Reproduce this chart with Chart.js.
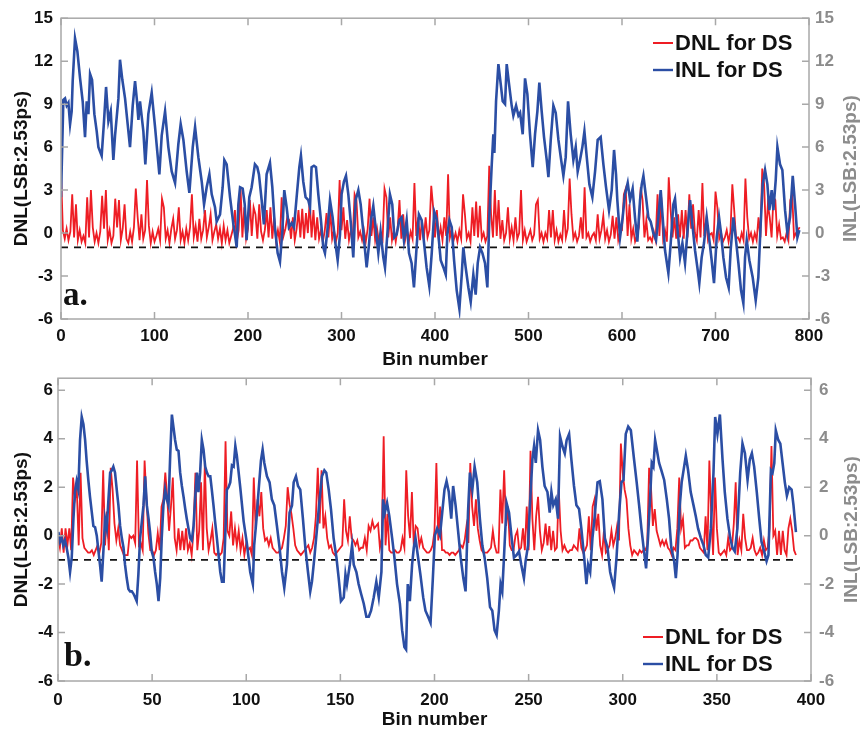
<!DOCTYPE html>
<html>
<head>
<meta charset="utf-8">
<script src="https://cdn.jsdelivr.net/npm/chart.js@4.4.0/dist/chart.umd.min.js"></script>
<style>
  body { margin: 0; background: #fff; }
  #wrap { position: relative; width: 860px; height: 735px; }
  #wrap canvas { position: absolute; left: 0; }
</style>
</head>
<body>
<div id="wrap">
  <canvas id="chartA" width="860" height="372" style="top:0"></canvas>
  <canvas id="chartB" width="860" height="375" style="top:360px"></canvas>
</div>
<script>
// ---- panel a: 800 bins ----
const xTicksA = [0, 100, 200, 300, 400, 500, 600, 700, 800];
const yTicksA = [-6, -3, 0, 3, 6, 9, 12, 15];
const dnlStepA = 2; // one DNL value every 2 bins
const dnlA = [
  4.3,0.2,-0.4,0.3,-0.5,0.1,2.7,-0.3,2.0,-0.5,0.2,-0.6,-0.2,-0.7,2.5,-0.3,3.0,0.4,-0.6,0.0,
  -0.7,0.1,2.6,0.3,3.0,-0.5,0.2,-0.7,-0.2,2.4,0.4,2.3,-0.5,0.3,2.0,-0.4,-0.7,0.1,-0.6,0.4,
  3.1,1.1,-0.5,1.3,-0.4,0.2,3.7,0.5,-0.7,0.1,-0.6,-0.2,0.3,-0.5,2.4,1.8,-0.4,0.2,-0.7,0.3,
  1.0,-0.4,0.2,1.8,-0.5,0.1,-0.7,0.3,-0.5,0.4,2.7,-0.3,0.5,-0.6,1.0,-0.4,0.2,1.6,-0.3,0.4,
  1.3,-0.5,0.1,0.6,-0.4,0.3,-0.7,0.5,-0.5,0.2,-0.7,-0.2,0.3,1.6,-0.6,0.2,3.2,-0.3,1.8,-0.4,
  0.3,2.3,-0.2,1.8,1.3,-0.4,2.0,0.1,-0.5,0.2,1.6,-0.3,1.8,-0.4,1.1,-0.5,0.2,-0.6,2.5,-0.2,
  0.3,1.1,0.9,-0.4,1.1,-0.5,0.3,1.6,-0.3,1.7,-0.4,1.4,0.0,2.3,-0.3,1.6,-0.5,1.1,-0.4,0.2,
  -0.6,0.1,1.4,-0.3,1.6,-0.4,0.2,-0.6,0.0,3.7,0.2,1.8,-0.4,0.9,-0.5,0.2,-0.4,2.7,2.3,-0.3,
  0.1,-0.5,0.2,-0.6,0.3,2.4,-0.2,1.1,-0.5,0.3,-0.6,0.0,-0.4,3.1,2.5,-0.3,1.1,-0.5,0.2,-0.6,
  0.3,2.3,-0.4,1.3,-0.5,0.2,-0.6,0.1,-0.4,3.5,-0.2,1.1,-0.5,0.9,-0.4,1.1,-0.3,0.2,3.3,1.8,
  -0.3,1.6,-0.4,0.4,-0.5,1.1,-0.2,4.1,-0.3,0.2,-0.5,0.0,-0.6,0.2,-0.4,2.7,1.3,-0.4,0.0,-0.6,
  1.8,-0.2,2.2,-0.3,1.9,-0.4,0.0,-0.6,-0.2,4.7,1.3,-0.3,3.0,-0.2,2.3,-0.4,0.9,-0.5,0.0,1.8,
  -0.4,0.4,-0.5,1.1,-0.4,0.0,3.0,-0.5,0.2,-0.6,-0.2,0.2,-0.5,-0.1,2.0,2.3,-0.4,0.0,-0.6,0.0,
  -0.4,1.6,-0.3,1.6,-0.5,0.2,-0.6,-0.1,-0.5,1.6,-0.3,0.3,3.8,1.3,-0.4,0.0,-0.6,-0.2,1.1,-0.4,
  3.2,-0.3,0.0,-0.6,-0.2,0.0,-0.5,1.3,-0.4,0.2,1.2,-0.4,0.2,-0.6,-0.1,1.2,-0.4,1.1,-0.5,0.1,
  0.2,2.7,3.1,-0.2,2.0,-0.4,0.3,-0.6,-0.2,0.4,3.2,2.3,-0.3,0.9,-0.5,-0.3,-0.6,0.1,-0.5,2.7,
  -0.2,2.5,-0.4,0.2,-0.6,3.9,1.6,-0.3,1.1,-0.4,1.3,-0.3,1.6,-0.4,1.6,-0.3,2.7,0.3,2.0,0.0,
  -0.5,1.6,-0.3,3.5,-0.2,0.9,-0.5,-0.1,0.0,-0.5,2.9,1.8,-0.4,0.0,-0.6,-0.3,0.2,-0.6,0.1,3.4,
  1.6,-0.4,-0.3,-0.6,0.0,-0.5,3.8,1.1,-0.4,0.0,-0.6,0.0,-0.5,1.1,-0.3,4.5,3.4,-0.2,2.0,1.1,
  -0.3,2.5,2.3,-0.2,0.6,-0.4,-0.3,-0.6,0.0,-0.5,2.3,2.7,-0.3,0.0,0.2,0.4
];
// [bin, INL] vertices
const inlA = [
  [0,2.5],[2.5,9.3],[4.3,9.4],[6.1,8.9],[7.9,9.1],[9.7,7.6],[11.4,8.5],[12.5,10.6],[15,13.6],[17.5,12.7],
  [20.4,10.8],[23.2,9.2],[25.7,6.7],[27.5,9.2],[29.3,8.3],[31.1,11.1],[33.2,10.7],[35.7,8.3],[38.2,7.1],[40,6.0],
  [43.5,5.4],[46,7.8],[48.2,10.2],[50.7,7.8],[53.2,8.5],[56,5.1],[57.8,6.8],[61.4,9.4],[63.1,12.1],[65.6,10.7],
  [68.5,9.4],[71.3,7.6],[73.8,6.0],[76.7,8.9],[79.2,10.6],[81,9.4],[82.8,7.9],[84.5,9.2],[88.1,7.1],[90.2,4.8],
  [93.4,8.3],[97,9.8],[100.6,7.4],[103.1,5.6],[105.2,4.1],[107.7,6.8],[111.3,8.5],[114.8,6.0],[118.4,4.3],[122,3.5],
  [125.5,6.2],[128,7.6],[130.9,6.5],[134.4,4.3],[137.3,2.8],[140.9,6.0],[143.4,7.4],[146.9,5.3],[150.5,3.6],[153,2.0],
  [155.8,3.2],[158.7,4.1],[161.2,2.7],[164.7,1.8],[166.5,0.8],[170.1,1.3],[172.9,3.2],[174.7,5.1],[177.2,4.8],[180.8,2.5],
  [184.4,0.6],[186.1,-0.1],[187.9,-1.0],[189.7,2.0],[191.5,3.2],[194.3,3.1],[196.5,2.0],[198.5,-0.5],[201.4,2.5],[203.9,3.2],
  [207.4,4.8],[209.9,4.6],[211.7,4.1],[214.6,2.3],[217,0.6],[219.9,4.1],[223.5,4.9],[226,3.2],[228.8,0.4],[231.7,-1.4],
  [234.2,-2.0],[236.7,0.1],[238.8,3.0],[241.3,1.8],[243.8,0.4],[246.7,0.7],[249.2,0.4],[252,2.5],[254.9,4.6],[256.6,5.4],
  [259.1,3.6],[261.6,2.5],[264.5,2.3],[266.3,1.8],[268,4.6],[270.5,4.7],[272.7,4.6],[275.2,2.7],[278,0.9],[280.5,-1.0],
  [282.3,-1.4],[284.8,0.1],[287.7,2.3],[290.5,1.1],[293,-0.5],[295.9,-1.9],[298.4,-0.1],[300.1,2.7],[302.6,3.6],[304.8,4.0],
  [307.3,2.7],[310.1,0.6],[312.6,-1.7],[315.1,2.3],[318,3.0],[320.5,2.0],[323.3,0.1],[326.9,-2.4],[329.4,-0.8],[331.5,0.9],
  [334,1.9],[336.5,0.4],[339.4,-1.4],[341.8,0.1],[344.7,-1.7],[346.5,-2.4],[349,-0.1],[351.8,2.7],[354.3,2.0],[356.5,-0.3],
  [359,-0.1],[361.8,0.9],[364.3,1.1],[366.8,-0.5],[369.7,0.9],[372.2,-1.4],[375,-2.1],[377.5,-3.8],[380.3,-1.0],[382.8,1.3],
  [385.7,0.9],[388.5,-0.8],[391,-2.4],[393.9,-3.7],[396.5,-1.4],[399.2,1.5],[401.7,1.0],[403.6,-0.1],[406.1,-1.9],[409,-2.4],
  [411.5,-2.9],[413.2,-0.1],[415.4,0.9],[417.9,0.4],[420.4,-1.9],[423.2,-4.0],[426.1,-5.3],[428.6,-2.9],[430.3,-1.0],[432.8,-2.4],
  [435.7,-3.8],[438.2,-4.8],[441,-2.9],[443.5,-4.3],[445.7,-2.1],[448.2,-1.0],[450.7,-1.4],[453.5,-2.1],[456,-3.8],[458.2,1.3],
  [460.7,4.8],[462.4,6.9],[463.5,5.6],[465.3,9.2],[467.8,11.8],[470.3,10.4],[472.4,9.2],[474.9,9.0],[476.7,11.8],[479.2,10.4],
  [482,8.9],[483.8,8.2],[486.7,8.9],[489.2,8.2],[491,8.4],[493.8,6.9],[496.3,10.8],[498.8,9.7],[501.6,6.9],[504.5,4.6],
  [507,6.9],[509.5,8.5],[511.6,10.5],[514.1,8.5],[516.6,6.7],[519.5,5.1],[521.3,3.9],[523.8,6.5],[526.6,8.9],[529.1,8.4],
  [532,6.5],[534.5,5.3],[537.3,4.0],[539.8,5.3],[542.3,9.2],[545.1,6.9],[548,5.1],[550.5,6.0],[552.6,4.3],[555.1,5.1],
  [557.6,6.0],[559.8,7.1],[562.3,5.3],[565.1,3.4],[568.3,2.5],[571.2,4.3],[574,6.5],[577.2,6.7],[580.1,4.8],[582.9,3.2],
  [586.1,1.6],[589,3.0],[591.5,5.8],[593.6,4.1],[595,2.3],[597.9,-0.3],[600.7,1.1],[603.2,2.7],[606.1,3.5],[608.6,2.3],
  [611.4,3.1],[613.9,1.1],[616.4,-0.6],[619.3,2.3],[621.1,3.4],[622.9,4.0],[625.7,2.5],[628.2,1.1],[630.7,0.8],[633.5,0],
  [636.4,-0.5],[638.9,1.1],[641.4,3.0],[643.5,1.1],[646,-1.2],[649.6,-2.8],[652.1,-0.7],[654.9,2.0],[656.7,2.4],[659.2,0.4],
  [662.1,-1.7],[664.6,-0.7],[667.4,-2.1],[669.9,0],[672.8,2.3],[675.3,0.6],[678.1,-1.2],[680.6,-2.4],[682.7,-3.5],[685.2,-1.7],
  [687.7,-0.7],[690.6,1.1],[693.1,-0.3],[695.9,-1.9],[698.4,-3.5],[701.3,-0.3],[703.8,1.1],[705.9,0],[708.4,-1.7],[711.3,-3.1],
  [714.1,-3.8],[716.2,-1.2],[719.1,1.1],[721.6,-0.3],[724.5,-2.1],[727.3,-4.0],[729.8,-4.9],[731.6,-1.7],[733.4,-0.5],[736.2,-1.9],
  [739.8,-3.1],[743,-4.7],[745.8,-3.1],[748.3,0.6],[750.5,3.4],[753,4.4],[755.5,3.4],[757.6,1.6],[760.1,3.0],[761.9,1.6],
  [764.4,3.7],[766.2,6.0],[769,4.8],[771.5,4.4],[774.4,1.6],[776.9,0],[779.7,1.1],[782.6,4.0],[785.1,2.0],[787.6,-0.3],
  [789.7,0.2]
];

// ---- panel b: 393 bins ----
const xTicksB = [0, 50, 100, 150, 200, 250, 300, 350, 400];
const yTicksB = [-6, -4, -2, 0, 2, 4, 6];
const dnlStepB = 1;
const dnlB = [
  -0.1,-0.5,0.3,-0.7,0.3,-0.4,0.3,-0.6,2.4,1.5,1.9,-0.4,2.6,-0.1,-0.5,-0.6,-0.7,-0.7,-0.6,-0.8,
  -0.6,-0.4,-0.7,-0.3,2.7,-0.4,1.0,-0.6,2.8,1.9,0.5,-0.2,0.3,-0.4,-0.6,-0.8,-0.8,-0.8,0.0,-0.1,
  0.0,-0.3,3.1,-0.4,-0.3,-0.6,3.1,1.5,0.1,-0.6,-0.6,-0.8,-0.6,0.1,-0.6,1.2,1.5,2.6,1.6,0.2,
  1.2,2.4,-0.1,-0.6,0.3,-0.6,0.2,-0.6,0.3,-0.6,-0.3,-0.8,0.2,2.6,-0.6,0.2,2.2,-0.6,3.0,0.3,
  -0.6,-0.2,0.3,-0.7,-0.8,-0.7,-0.8,-0.7,-0.1,3.9,0.2,0.0,1.0,-0.4,0.3,-0.4,0.2,-0.6,-0.1,-0.8,
  -0.3,-0.6,-0.5,-0.8,2.4,0.3,1.5,0.8,1.8,0.3,-0.2,-0.1,-0.4,-0.1,-0.5,-0.6,-0.7,-0.7,-0.6,-0.5,
  -0.1,0.4,2.0,1.3,0.9,0.3,-0.4,-0.6,-0.7,-0.8,-0.7,-0.6,-0.5,-0.4,-0.7,-0.5,-0.1,0.8,2.8,0.5,
  2.7,0.3,0.8,-0.1,-0.5,-0.4,-0.7,-0.8,-0.7,-0.6,-0.5,-0.4,1.5,0.2,-0.2,0.8,-0.1,-0.2,-0.4,-0.2,
  -0.6,-0.5,-0.5,-0.1,-0.6,0.4,0.2,0.6,0.3,0.4,0.5,-0.5,-0.1,4.1,-0.4,0.9,-0.6,-0.7,-0.7,-0.6,
  -0.7,-0.7,-0.6,-0.1,-0.5,2.7,0.8,-0.1,1.8,-0.4,0.4,0.3,-0.4,-0.1,-0.5,-0.6,-0.7,-0.7,-0.6,-0.4,
  0.2,3.0,-0.2,1.2,-0.6,-0.6,-0.7,-0.7,-0.8,-0.7,-0.7,-0.8,-0.7,-0.6,-0.4,-0.5,-0.2,0.4,-0.3,3.0,
  1.2,0.4,1.5,0.3,-0.2,-0.6,-0.7,-0.7,-0.7,-0.6,-0.5,0.2,-0.4,-0.7,-0.7,1.9,0.5,2.7,0.4,1.2,
  -0.4,-0.6,-0.6,0.0,0.2,-0.6,-0.5,0.3,-0.6,1.2,-0.6,3.5,0.7,-0.6,0.8,1.6,0.2,-0.6,-0.3,0.5,
  -0.4,0.4,-0.6,0.2,-0.6,-0.5,1.9,0.2,-0.6,-0.4,-0.6,-0.7,-0.6,-0.6,-0.4,-0.5,-0.6,0.3,-0.5,-0.7,
  -0.6,-0.4,0.8,-0.6,1.2,1.5,0.2,0.9,-0.4,-0.8,0.2,-0.7,-0.6,-0.4,0.2,-0.4,-0.1,0.4,-0.2,3.8,
  2.6,1.9,1.5,0.3,-0.4,-0.8,-0.6,-0.7,-0.8,-0.6,-0.7,-0.6,-0.6,-0.4,2.8,2.0,0.4,1.1,0.2,-0.1,
  -0.4,-0.2,-0.4,-0.2,-0.5,-0.6,-0.8,-0.5,-0.6,0.3,2.4,0.3,0.7,-0.5,-0.4,-0.4,-0.2,-0.2,-0.1,-0.1,
  -0.2,-0.5,-0.6,-0.7,0.8,-0.6,3.1,0.9,-0.8,2.4,0.3,-0.7,-0.8,-0.7,-0.6,-0.8,-0.1,-0.6,-0.5,0.5,
  2.2,-0.8,-0.2,-0.6,0.9,-0.1,-0.6,-0.6,-0.5,-0.1,-0.6,-0.8,-0.7,-0.5,-0.8,-0.2,-0.6,-0.5,0.3,3.7,
  0.0,0.2,-0.8,0.2,-0.8,0.2,-0.6,-0.8,0.3,0.7,0.2,-0.6,-0.8
];
const inlB = [
  [0.2,0.15],[1.1,-0.25],[2,-0.1],[2.8,-0.4],[3.7,-0.2],[4.6,-0.5],[5.5,-0.9],[6.4,-1.5],[7.3,-0.9],[8.2,0.7],
  [9,1.8],[9.9,2.25],[10.8,1.9],[11.7,3.95],[12.6,4.9],[13.5,4.6],[14.4,3.95],[15.2,3.1],[16.1,2.3],[17,1.6],
  [17.9,1.0],[18.8,0.4],[19.7,0.35],[20.6,0],[21.5,-0.65],[22.3,-1.2],[23.2,-1.9],[24.1,-0.65],[25,0.7],[25.9,0.3],
  [26.8,1.5],[27.7,2.6],[28.6,2.7],[29.4,2.85],[30.3,2.6],[31.2,1.9],[32.1,1.25],[33,0.4],[33.9,-0.1],[34.8,-0.5],
  [35.6,-1.2],[36.5,-1.75],[37.4,-2.2],[38.3,-2.3],[39.2,-2.3],[40.1,-2.4],[41,-2.55],[41.8,-2.7],[42.7,-1.6],[43.6,-0.1],
  [44.5,0.55],[45.4,1.25],[46.3,2.45],[47.2,1.25],[48.1,0.7],[48.9,0.15],[49.8,-0.65],[50.7,-0.9],[51.6,-1.5],[52.5,-2.0],
  [53.4,-2.7],[54.3,-1.75],[55.1,-0.1],[56,1.25],[56.9,1.9],[57.8,1.5],[58.7,1.25],[59.6,3.3],[60.5,5.0],[61.3,4.5],
  [62.2,3.95],[63.1,3.55],[64,3.5],[64.9,2.6],[65.8,2.05],[66.7,1.6],[67.6,1.1],[68.4,0.7],[69.3,0.3],[70.2,-0.1],
  [71.1,-0.2],[72,0.4],[72.9,1.6],[73.8,2.6],[74.6,1.8],[75.5,2.6],[76.4,3.95],[77.3,3.55],[78.2,2.85],[79.1,2.6],
  [80,2.45],[80.9,2.45],[81.7,1.9],[82.6,1.25],[83.5,0.55],[84.4,-0.1],[85.3,-0.8],[86.2,-1.5],[87.1,-1.9],[88,-1.9],
  [88.8,-0.1],[89.7,1.9],[90.6,2.0],[91.5,2.2],[92.4,2.9],[93.3,2.85],[94.2,3.7],[95,3.3],[96.8,2.0],[98.6,0.6],
  [100.3,-0.3],[102.1,-1.5],[103.5,-2.0],[104.2,-0.4],[105.3,0.55],[106.6,1.9],[107.8,3.1],[108.7,3.55],[109.6,3.0],[111,2.45],
  [112.4,2.2],[113.6,1.5],[114.9,1.25],[116.3,0.4],[117.7,-0.5],[119,-1.5],[120.2,-2.15],[121.6,-1.2],[123,0.95],[124.3,1.25],
  [125.2,2.2],[126.4,2.45],[127.5,2.05],[128.7,1.9],[130.1,0.7],[131.4,-0.5],[132.8,-1.5],[134,-2.3],[134.9,-1.9],[136.2,-0.9],
  [137.6,0.3],[138.8,1.35],[140.2,2.45],[141.5,2.7],[142.5,2.6],[143.8,1.9],[145,1.1],[146.4,-0.1],[147.9,-0.9],[149.1,-1.75],
  [150.3,-2.7],[151.8,-2.55],[152.7,-1.6],[153.5,-2.0],[155,-1.2],[156.2,-0.4],[157.1,-1.2],[158.5,-1.5],[159.7,-2.0],[161,-2.4],
  [162.4,-2.8],[163.8,-3.35],[165.1,-3.35],[166.3,-3.1],[167.7,-2.55],[169.1,-1.9],[170.4,-2.55],[171.8,-1.5],[172.7,1.5],[173.6,0.95],
  [174.8,1.35],[176,0.8],[177.5,-0.1],[178.7,-0.9],[180.1,-2.0],[181.6,-2.8],[182.8,-3.9],[184,-4.6],[184.9,-4.7],[185.8,-2.0],
  [186.9,-2.7],[188.1,-1.2],[189,-0.5],[189.9,-0.1],[191.1,-0.8],[192.5,-1.6],[194,-2.55],[195.2,-3.1],[196.6,-3.35],[197.9,-3.6],
  [199.1,-1.8],[200.2,0.0],[201.4,0.3],[202.9,0],[204.1,0.95],[205.3,1.9],[206.4,2.25],[207.6,1.8],[208.9,0.7],[209.9,2.05],
  [211.2,1.25],[212.4,0.3],[213.9,-0.9],[215.3,-1.75],[216.5,-2.3],[217.8,0.95],[218.8,2.6],[220.1,1.9],[221.3,2.85],[222.7,2.2],
  [224.1,0.7],[225.4,-0.4],[226.6,-0.9],[228,-1.75],[229.5,-2.95],[230.7,-3.1],[231.9,-3.9],[233,-4.1],[234.2,-3.1],[235.1,-2.0],
  [236,-2.3],[236.9,-0.9],[238.3,1.35],[239.6,0.95],[241,-0.1],[242.2,-0.9],[243.6,-0.8],[244.9,-0.65],[246.1,-1.2],[247.5,-1.75],
  [248.4,-1.05],[249.7,-0.4],[250.7,1.25],[252,3.15],[252.9,3.7],[253.8,3.0],[255,4.35],[256.1,3.95],[257.3,2.85],[258.5,2.05],
  [260,1.8],[261.2,0.95],[262.1,1.8],[263.1,1.25],[264.4,1.5],[265.6,0.7],[266.7,4.1],[267.9,3.7],[269.2,3.4],[270.2,3.95],
  [271.5,4.2],[272.7,3.15],[274.1,2.05],[275.4,1.25],[276.8,1.1],[278,0.3],[279.5,-0.9],[280.7,-2.0],[281.6,-1.2],[282.7,-1.5],
  [283.9,-0.1],[285.1,0.8],[286.6,2.2],[287.8,2.25],[289.2,1.5],[290.5,-0.1],[291.9,-0.5],[293.3,-1.5],[294.5,-1.9],[295.4,-2.15],
  [296.7,-0.9],[298.1,0.95],[299.3,2.2],[300.4,2.3],[301.6,4.2],[302.9,4.5],[304.3,4.35],[306,3.15],[307.4,2.2],[308.7,1.25],
  [309.9,0.3],[311.3,-0.65],[312.4,-1.35],[313.4,-0.1],[314.5,1.5],[315.4,3.0],[316.3,2.85],[317.2,3.95],[318.1,3.55],[319.3,3.0],
  [320.5,2.7],[322,2.3],[323.4,1.5],[324.6,0.7],[325.8,-0.5],[327.3,-1.05],[328.2,-1.75],[329.1,-0.8],[330.3,1.25],[331.3,2.2],
  [332.6,2.85],[333.5,3.3],[334.7,2.7],[336.1,1.8],[337.6,1.25],[338.8,0.8],[340,0.3],[341.5,-0.1],[342.9,-0.4],[344.1,-0.8],
  [345.4,-0.9],[346.8,0.3],[348.2,2.6],[349.1,4.9],[350.3,4.2],[351.6,5.0],[353,3.15],[354.2,1.8],[355.6,0.7],[357.1,-0.1],
  [358.3,-0.5],[359.5,-0.65],[360.9,0.3],[362.4,2.6],[363.6,3.8],[364.9,3.4],[366.3,2.3],[367.5,3.15],[368.6,3.4],[369.8,2.85],
  [371.2,1.8],[372.5,0.7],[373.7,-0.25],[375.1,-0.65],[376.4,-1.05],[377.4,-0.8],[378.7,2.7],[379.6,2.6],[380.5,3.0],[381.3,4.35],
  [382.6,3.95],[383.7,3.8],[384.9,3.0],[386.1,2.2],[387.2,1.65],[388.4,2.0],[389.7,1.9],[390.7,1.25],[392,0.15]
];

const RED = '#ee1d24';
const BLUE = '#2b4ea4';
const GREY = '#8c8c8c';
const SANS = "'Liberation Sans', Arial, sans-serif";

// box, inward tick marks, titles, legend and panel letter
const framePlugin = {
  id: 'frame',
  afterDraw(chart, args, o) {
    const { ctx, chartArea: a, scales } = chart;
    ctx.save();
    ctx.strokeStyle = '#a8a8a8';
    ctx.lineWidth = 1.5;
    ctx.strokeRect(a.left, a.top, a.right - a.left, a.bottom - a.top);
    ctx.beginPath();
    scales.x.ticks.forEach(t => {
      const px = scales.x.getPixelForValue(t.value);
      ctx.moveTo(px, a.bottom); ctx.lineTo(px, a.bottom - 7);
      ctx.moveTo(px, a.top); ctx.lineTo(px, a.top + 7);
    });
    scales.y.ticks.forEach(t => {
      const py = scales.y.getPixelForValue(t.value);
      ctx.moveTo(a.left, py); ctx.lineTo(a.left + 7, py);
    });
    scales.y2.ticks.forEach(t => {
      const py = scales.y2.getPixelForValue(t.value);
      ctx.moveTo(a.right, py); ctx.lineTo(a.right - 7, py);
    });
    ctx.stroke();

    const midY = (a.top + a.bottom) / 2;
    ctx.textAlign = 'center';
    ctx.textBaseline = 'middle';
    ctx.font = 'bold 19px ' + SANS;
    ctx.fillStyle = '#111';
    ctx.fillText('Bin number', (a.left + a.right) / 2, o.xTitleY);
    [[o.leftX, '#111', 'DNL(LSB:2.53ps)'], [o.rightX, GREY, 'INL(LSB:2.53ps)']].forEach(([x, c, s]) => {
      ctx.save();
      ctx.translate(x, midY);
      ctx.rotate(-Math.PI / 2);
      ctx.fillStyle = c;
      ctx.fillText(s, 0, 0);
      ctx.restore();
    });

    // legend
    ctx.textAlign = 'left';
    ctx.font = 'bold 22px ' + SANS;
    [[RED, 'DNL for DS', 2], [BLUE, 'INL for DS', 2.4]].forEach(([c, s, w], i) => {
      const y = o.legY + i * o.legGap;
      ctx.strokeStyle = c;
      ctx.lineWidth = w;
      ctx.beginPath();
      ctx.moveTo(o.legX, y); ctx.lineTo(o.legX + 20, y);
      ctx.stroke();
      ctx.fillStyle = '#111';
      ctx.fillText(s, o.legX + 22, y + 1);
    });

    ctx.textBaseline = 'alphabetic';
    ctx.font = 'bold ' + o.tagSize + "px 'Liberation Serif', 'Times New Roman', serif";
    ctx.fillText(o.tag, o.tagX, o.tagY);
    ctx.restore();
  }
};

function tickFont() { return { family: SANS, size: 17, weight: 'bold' }; }

function makePanel(id, p) {
  return new Chart(document.getElementById(id), {
    type: 'line',
    data: {
      datasets: [
        { label: 'INL for DS', data: p.inl.map(v => ({ x: v[0], y: v[1] })), borderColor: BLUE, borderWidth: 2.6 },
        { label: 'ref', data: [{ x: 0, y: -1 }, { x: p.lastBin, y: -1 }], borderColor: '#111', borderWidth: 1.8, borderDash: [7, 6] },
        { label: 'DNL for DS', data: p.dnl.map((v, i) => ({ x: i * p.step, y: v })), borderColor: RED, borderWidth: 1.8 }
      ]
    },
    options: {
      responsive: false,
      animation: false,
      elements: { point: { radius: 0 }, line: { tension: 0 } },
      layout: { autoPadding: false, padding: { top: p.top, left: 0, right: 0, bottom: 0 } },
      plugins: { legend: { display: false }, tooltip: { enabled: false }, frame: p.frame },
      scales: {
        x: {
          type: 'linear', min: 0, max: p.xMax,
          afterBuildTicks: s => { s.ticks = p.xTicks.map(v => ({ value: v })); },
          afterFit: s => { s.height = p.xH; },
          grid: { display: false, drawTicks: false }, border: { display: false },
          ticks: { font: tickFont(), color: '#111', padding: p.xPad, maxRotation: 0 }
        },
        y: {
          position: 'left', min: -6, max: p.yMax, bounds: 'data',
          afterBuildTicks: s => { s.ticks = p.yTicks.map(v => ({ value: v })); },
          afterFit: s => { s.width = p.leftW; },
          grid: { display: false, drawTicks: false }, border: { display: false },
          ticks: { font: tickFont(), color: '#111', padding: p.leftPad }
        },
        y2: {
          position: 'right', min: -6, max: p.yMax, bounds: 'data',
          afterBuildTicks: s => { s.ticks = p.yTicks.map(v => ({ value: v })); },
          afterFit: s => { s.width = p.rightW; },
          grid: { display: false, drawTicks: false }, border: { display: false },
          ticks: { font: tickFont(), color: GREY, padding: p.rightPad }
        }
      }
    },
    plugins: [framePlugin]
  });
}

makePanel('chartA', {
  inl: inlA, dnl: dnlA, step: dnlStepA, lastBin: 790,
  xMax: 800, yMax: 15, xTicks: xTicksA, yTicks: yTicksA,
  top: 16, xH: 53, leftW: 61, rightW: 51, xPad: 7, leftPad: 8, rightPad: 6,
  frame: { xTitleY: 360, leftX: 22, rightX: 851, legX: 653, legY: 43, legGap: 27,
           tag: 'a.', tagX: 63, tagY: 305, tagSize: 33 }
});

makePanel('chartB', {
  inl: inlB, dnl: dnlB, step: dnlStepB, lastBin: 392,
  xMax: 400, yMax: 6.5, xTicks: xTicksB, yTicks: yTicksB,
  top: 14, xH: 54, leftW: 58, rightW: 49, xPad: 9, leftPad: 5, rightPad: 8,
  frame: { xTitleY: 360, leftX: 22, rightX: 852, legX: 643, legY: 277, legGap: 27,
           tag: 'b.', tagX: 64, tagY: 306, tagSize: 34 }
});
</script>
</body>
</html>
